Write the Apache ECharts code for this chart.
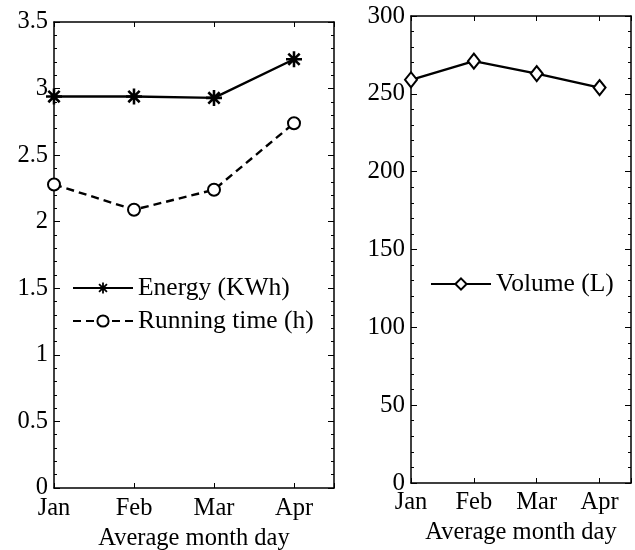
<!DOCTYPE html>
<html>
<head>
<meta charset="utf-8">
<script src="https://cdn.jsdelivr.net/npm/echarts@6/dist/echarts.min.js"></script>
<style>
    html,body{margin:0;padding:0;background:#fff;}
    #main{width:635px;height:550px;}
</style>
</head>
<body>
<div id="main"></div>
<script>
// 数据
var months = ['Jan', 'Feb', 'Mar', 'Apr'];
var monthPos = [1, 2, 3, 4];
var energy = [2.94, 2.94, 2.93, 3.22];        // Energy (KWh)
var runningTime = [2.28, 2.09, 2.24, 2.74];   // Running time (h)
var volume = [259, 271, 263, 254];            // Volume (L)

var FONT = 'Liberation Serif';
// 星号 marker (MATLAB '*'), 四条粗线
var STAR = 'path://M0 42L100 42L100 58L0 58Z M42 0L58 0L58 100L42 100Z ' +
    'M20.3 8.9L91.1 79.7L79.7 91.1L8.9 20.3Z M91.1 20.3L20.3 91.1L8.9 79.7L79.7 8.9Z';

function pairs(vals){
    var out = [];
    for(var i = 0; i < vals.length; i++) out.push([monthPos[i], vals[i]]);
    return out;
}

function xAxisOf(gridIndex, top, labelMargin, nameGap){
    var ax = {
        type: 'value',
        gridIndex: gridIndex,
        min: 1, max: 4.5, interval: 1,
        position: top ? 'top' : 'bottom',
        axisLine: {onZero: false, lineStyle: {color: '#000', width: 1.5}},
        axisTick: {inside: true, length: 5, lineStyle: {color: '#000', width: 1}},
        splitLine: {show: false},
        axisLabel: {
            show: !top,
            color: '#000', fontFamily: FONT, fontSize: 24.5, margin: labelMargin || 8,
            formatter: function(v){ return months[v - 1] || ''; }
        }
    };
    if(!top){
        ax.name = 'Average month day';
        ax.nameLocation = 'middle';
        ax.nameGap = nameGap;
        ax.nameTextStyle = {color: '#000', fontFamily: FONT, fontSize: 24.5};
    }
    return ax;
}

function yAxisOf(gridIndex, right, max, interval, fontSize){
    return {
        type: 'value',
        gridIndex: gridIndex,
        min: 0, max: max, interval: interval,
        position: right ? 'right' : 'left',
        axisLine: {show: true, onZero: false, lineStyle: {color: '#000', width: 1.5}},
        axisTick: {show: true, inside: true, length: 6, lineStyle: {color: '#000', width: 1}},
        minorTick: {show: true, splitNumber: 5, length: 3, lineStyle: {color: '#000', width: 1}},
        splitLine: {show: false},
        axisLabel: {show: !right, color: '#000', fontFamily: FONT, fontSize: fontSize, margin: 6}
    };
}

var chart = echarts.init(document.getElementById('main'));
var option = {
    backgroundColor: '#fff',
    animation: false,
    grid: [
        {left: 54, top: 22, width: 280, height: 466, outerBoundsMode: 'none', containLabel: false},
        {left: 411, top: 16, width: 220, height: 467, outerBoundsMode: 'none', containLabel: false}
    ],
    xAxis: [
        xAxisOf(0, false, 8, 29), xAxisOf(0, true),
        xAxisOf(1, false, 7, 36), xAxisOf(1, true)
    ],
    yAxis: [
        yAxisOf(0, false, 3.5, 0.5, 24.5), yAxisOf(0, true, 3.5, 0.5, 24.5),
        yAxisOf(1, false, 300, 50, 25), yAxisOf(1, true, 300, 50, 25)
    ],
    legend: [
        {
            data: ['Energy (KWh)', 'Running time (h)'],
            orient: 'vertical',
            left: 67, top: 270,
            itemWidth: 60, itemHeight: 14, itemGap: 7,
            textStyle: {color: '#000', fontFamily: FONT, fontSize: 25.5, lineHeight: 26},
            selectedMode: false
        },
        {
            data: ['Volume (L)'],
            orient: 'vertical',
            left: 425, top: 266,
            itemWidth: 60, itemHeight: 14,
            textStyle: {color: '#000', fontFamily: FONT, fontSize: 25.5, lineHeight: 26},
            selectedMode: false
        }
    ],
    series: [
        {
            name: 'Energy (KWh)',
            type: 'line',
            xAxisIndex: 0, yAxisIndex: 0,
            data: pairs(energy),
            symbol: STAR, symbolSize: 16,
            itemStyle: {color: '#000'},
            lineStyle: {color: '#000', width: 2.4}
        },
        {
            name: 'Running time (h)',
            type: 'line',
            xAxisIndex: 0, yAxisIndex: 0,
            data: pairs(runningTime),
            symbol: 'emptyCircle', symbolSize: 12,
            itemStyle: {color: '#000', borderWidth: 2.2},
            lineStyle: {color: '#000', width: 2.4, type: [8, 5]}
        },
        {
            name: 'Volume (L)',
            type: 'line',
            xAxisIndex: 2, yAxisIndex: 2,
            data: pairs(volume),
            symbol: 'emptyDiamond', symbolSize: [12, 15],
            itemStyle: {color: '#000', borderWidth: 2.2},
            lineStyle: {color: '#000', width: 2.4}
        }
    ]
};
chart.setOption(option);
</script>
</body>
</html>
